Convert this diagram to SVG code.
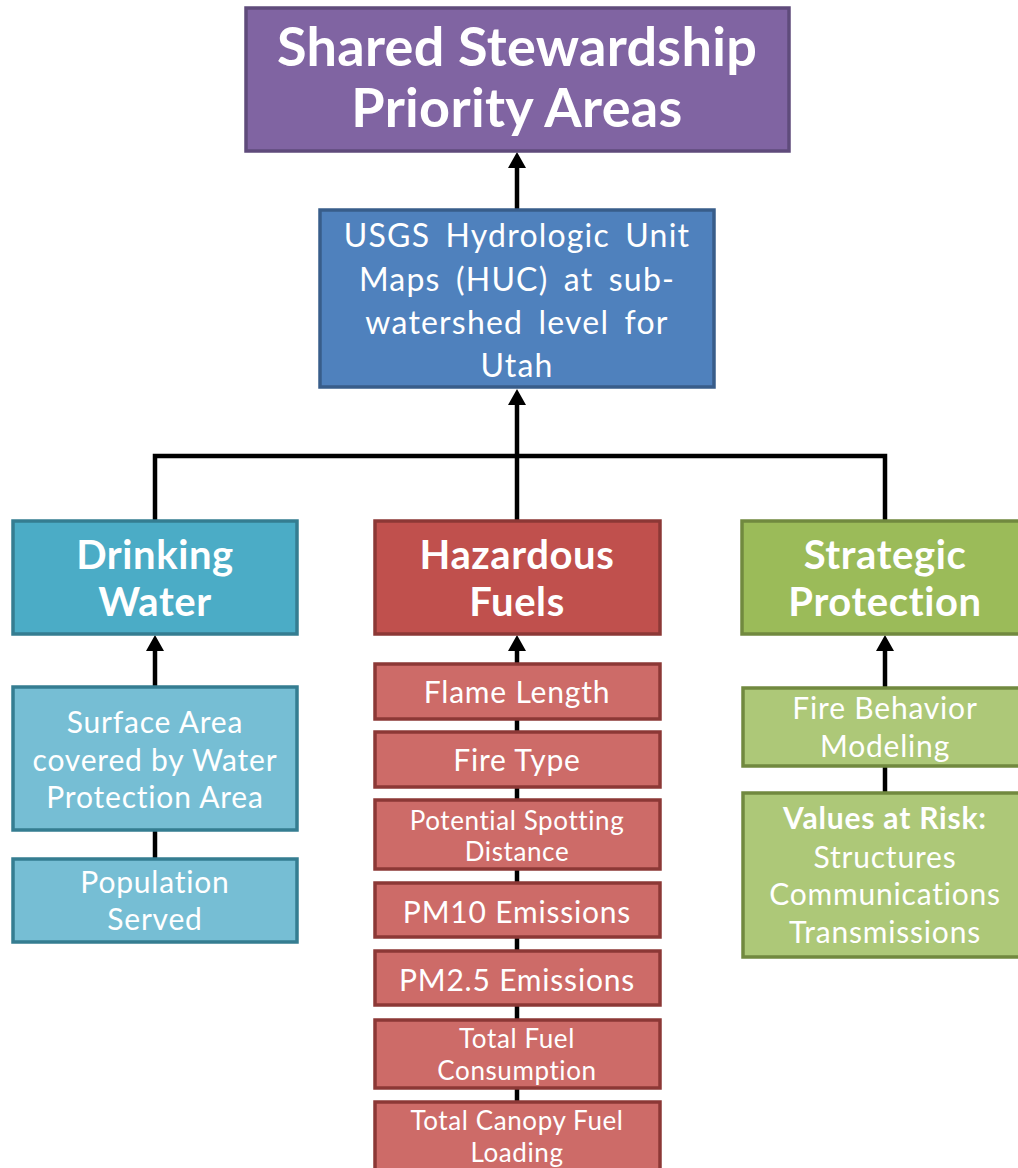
<svg xmlns="http://www.w3.org/2000/svg" width="1018" height="1168" viewBox="0 0 1018 1168">
<style>
text{font-family:Lato,"Open Sans",sans-serif;fill:#fff;text-anchor:middle}
.b{font-weight:bold}
.conn{stroke:#000;stroke-width:4.5;fill:none}
.purple{fill:#8064A2;stroke:#5F4B7B;stroke-width:3.5}
.blue{fill:#4F81BD;stroke:#385D8A;stroke-width:3.5}
.teal{fill:#4BACC6;stroke:#357D91;stroke-width:3.5}
.red{fill:#C0504D;stroke:#8C3836;stroke-width:3.5}
.green{fill:#9BBB59;stroke:#71893F;stroke-width:3.5}
.teal2{fill:#76BED4;stroke:#357D91;stroke-width:3.5}
.red2{fill:#CD6B68;stroke:#8C3836;stroke-width:3.5}
.green2{fill:#ADC878;stroke:#71893F;stroke-width:3.5}
.t54{font-size:54px;letter-spacing:0.3px}
.t40{font-size:40px;letter-spacing:0.6px}
.t32{font-size:32px;letter-spacing:1.2px;word-spacing:6px}
.t30{font-size:30px;letter-spacing:0.8px}
.t26{font-size:26px;letter-spacing:0.6px}
</style>
<defs>
<marker id="ah" markerUnits="userSpaceOnUse" viewBox="0 0 16 18" markerWidth="16" markerHeight="18" refX="2" refY="9" orient="auto">
<path d="M0,0 L16,9 L0,18 z" fill="#000"/>
</marker>
</defs>
<rect width="1018" height="1168" fill="#fff"/>
<g id="connectors">
<path class="conn" d="M517,209 V166" marker-end="url(#ah)"/>
<path class="conn" d="M155,521 V456 H885 V521"/>
<path class="conn" d="M517,521 V403" marker-end="url(#ah)"/>
<path class="conn" d="M155,686 V649" marker-end="url(#ah)"/>
<path class="conn" d="M155,830 V858"/>
<path class="conn" d="M517,663 V649" marker-end="url(#ah)"/>
<path class="conn" d="M517,718 V1102"/>
<path class="conn" d="M885,687 V649" marker-end="url(#ah)"/>
<path class="conn" d="M885,766 V792"/>
</g>
<g id="node-top">
<rect class="purple" x="246" y="8" width="543" height="143"/>
<text class="b t54" x="517" y="66">Shared Stewardship</text>
<text class="b t54" x="517" y="127">Priority Areas</text>
</g>
<g id="node-huc">
<rect class="blue" x="320" y="210" width="394" height="177"/>
<text class="t32" x="517" y="247">USGS Hydrologic Unit</text>
<text class="t32" x="517" y="291">Maps (HUC) at sub-</text>
<text class="t32" x="517" y="334">watershed level for</text>
<text class="t32" x="517" y="377">Utah</text>
</g>
<g id="node-drinking">
<rect class="teal" x="13" y="521" width="284" height="113"/>
<text class="b t40" x="155" y="569">Drinking</text>
<text class="b t40" x="155" y="616">Water</text>
</g>
<g id="node-hazardous">
<rect class="red" x="375" y="521" width="285" height="113"/>
<text class="b t40" x="517" y="569">Hazardous</text>
<text class="b t40" x="517" y="616">Fuels</text>
</g>
<g id="node-strategic">
<rect class="green" x="742" y="521" width="286" height="113"/>
<text class="b t40" x="885" y="569">Strategic</text>
<text class="b t40" x="885" y="616">Protection</text>
</g>
<g id="node-surface">
<rect class="teal2" x="13" y="687" width="284" height="143"/>
<text class="t30" x="155" y="733">Surface Area</text>
<text class="t30" x="155" y="771">covered by Water</text>
<text class="t30" x="155" y="808">Protection Area</text>
</g>
<g id="node-population">
<rect class="teal2" x="13" y="859" width="284" height="83"/>
<text class="t30" x="155" y="893">Population</text>
<text class="t30" x="155" y="930">Served</text>
</g>
<g id="node-flame">
<rect class="red2" x="375" y="664" width="285" height="55"/>
<text class="t30" x="517" y="703">Flame Length</text>
</g>
<g id="node-firetype">
<rect class="red2" x="375" y="732" width="285" height="55"/>
<text class="t30" x="517" y="771">Fire Type</text>
</g>
<g id="node-spotting">
<rect class="red2" x="375" y="800" width="285" height="69"/>
<text class="t26" x="517" y="830">Potential Spotting</text>
<text class="t26" x="517" y="861">Distance</text>
</g>
<g id="node-pm10">
<rect class="red2" x="375" y="883" width="285" height="54"/>
<text class="t30" x="517" y="923">PM10 Emissions</text>
</g>
<g id="node-pm25">
<rect class="red2" x="375" y="951" width="285" height="54"/>
<text class="t30" x="517" y="991">PM2.5 Emissions</text>
</g>
<g id="node-consumption">
<rect class="red2" x="375" y="1020" width="285" height="68"/>
<text class="t26" x="517" y="1048">Total Fuel</text>
<text class="t26" x="517" y="1080">Consumption</text>
</g>
<g id="node-canopy">
<rect class="red2" x="375" y="1102" width="285" height="80"/>
<text class="t26" x="517" y="1130">Total Canopy Fuel</text>
<text class="t26" x="517" y="1162">Loading</text>
</g>
<g id="node-firebehavior">
<rect class="green2" x="743" y="688" width="286" height="78"/>
<text class="t30" x="885" y="719">Fire Behavior</text>
<text class="t30" x="885" y="757">Modeling</text>
</g>
<g id="node-values">
<rect class="green2" x="743" y="793" width="286" height="164"/>
<text class="t30 b" x="885" y="829">Values at Risk:</text>
<text class="t30" x="885" y="868">Structures</text>
<text class="t30" x="885" y="905">Communications</text>
<text class="t30" x="885" y="943">Transmissions</text>
</g>
</svg>
